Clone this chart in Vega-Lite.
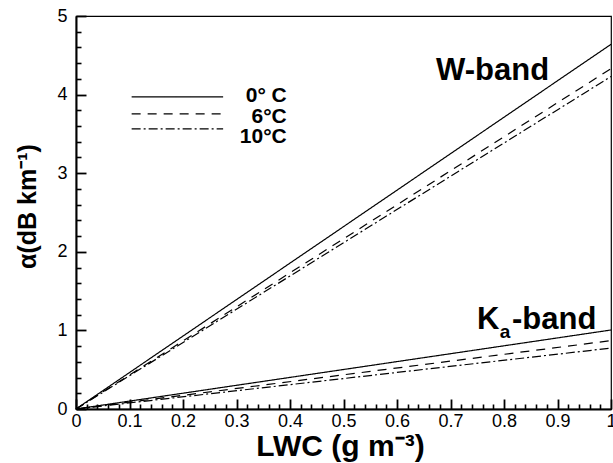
{
  "$schema": "https://vega.github.io/schema/vega-lite/v6.json",
  "width": 535,
  "height": 393,
  "autosize": "none",
  "padding": {"left": 76, "top": 16, "right": 2, "bottom": 54},
  "background": "#ffffff",
  "config": {
    "font": "Liberation Sans",
    "view": {"stroke": "#000000", "strokeWidth": 1.2},
    "axis": {
      "grid": false,
      "domainColor": "#000000",
      "tickColor": "#000000",
      "labelColor": "#000000",
      "titleColor": "#000000",
      "labelFont": "Liberation Sans",
      "labelFontSize": 18,
      "titleFont": "Liberation Sans",
      "titleFontSize": 28,
      "titleFontWeight": "bold"
    }
  },
  "datasets": {
    "curves": [
      {"band": "W", "temp": "0°C", "lwc": 0, "alpha": 0},
      {"band": "W", "temp": "0°C", "lwc": 1, "alpha": 4.64},
      {"band": "W", "temp": "6°C", "lwc": 0, "alpha": 0},
      {"band": "W", "temp": "6°C", "lwc": 1, "alpha": 4.33},
      {"band": "W", "temp": "10°C", "lwc": 0, "alpha": 0},
      {"band": "W", "temp": "10°C", "lwc": 1, "alpha": 4.23},
      {"band": "Ka", "temp": "0°C", "lwc": 0, "alpha": 0},
      {"band": "Ka", "temp": "0°C", "lwc": 1, "alpha": 1.005},
      {"band": "Ka", "temp": "6°C", "lwc": 0, "alpha": 0},
      {"band": "Ka", "temp": "6°C", "lwc": 1, "alpha": 0.87},
      {"band": "Ka", "temp": "10°C", "lwc": 0, "alpha": 0},
      {"band": "Ka", "temp": "10°C", "lwc": 1, "alpha": 0.775}
    ],
    "legend": [
      {"temp": "0°C", "label": "0° C", "x": 0.104, "x2": 0.275, "y": 3.97, "ly": 3.98, "lx": 0.394},
      {"temp": "6°C", "label": "6°C", "x": 0.104, "x2": 0.275, "y": 3.754, "ly": 3.72, "lx": 0.394},
      {"temp": "10°C", "label": "10°C", "x": 0.104, "x2": 0.275, "y": 3.563, "ly": 3.46, "lx": 0.394}
    ],
    "bands": [
      {"text": "W-band", "x": 0.673, "y": 4.19},
      {"text": "K", "x": 0.7495, "y": 1.019},
      {"text": "-band", "x": 0.815, "y": 1.019}
    ],
    "subs": [
      {"text": "a", "x": 0.792, "y": 0.904}
    ]
  },
  "layer": [
    {
      "data": {"name": "curves"},
      "mark": {"type": "line", "color": "#000000", "strokeWidth": 1.2},
      "encoding": {
        "x": {
          "field": "lwc", "type": "quantitative",
          "scale": {"domain": [0, 1], "nice": false, "zero": false},
          "axis": {
            "orient": "bottom",
            "values": [0.02, 0.04, 0.06, 0.08, 0.12, 0.14, 0.16, 0.18, 0.22, 0.24, 0.26, 0.28, 0.32, 0.34, 0.36, 0.38, 0.42, 0.44, 0.46, 0.48, 0.52, 0.54, 0.56, 0.58, 0.62, 0.64, 0.66, 0.68, 0.72, 0.74, 0.76, 0.78, 0.82, 0.84, 0.86, 0.88, 0.92, 0.94, 0.96, 0.98],
            "tickSize": -5,
            "tickWidth": 1.6,
            "labels": false,
            "domain": false,
            "title": null
          }
        },
        "y": {
          "field": "alpha", "type": "quantitative",
          "scale": {"domain": [0, 5], "nice": false, "zero": false},
          "axis": {
            "orient": "left",
            "values": [0.2, 0.4, 0.6, 0.8, 1.2, 1.4, 1.6, 1.8, 2.2, 2.4, 2.6, 2.8, 3.2, 3.4, 3.6, 3.8, 4.2, 4.4, 4.6, 4.8],
            "tickSize": -5,
            "tickWidth": 1.6,
            "labels": false,
            "domain": false,
            "title": null
          }
        },
        "detail": {"field": "band", "type": "nominal"},
        "strokeDash": {
          "field": "temp", "type": "nominal",
          "scale": {"domain": ["0°C", "6°C", "10°C"], "range": [[1, 0], [9, 7], [9, 3, 2, 3]]},
          "legend": null
        }
      }
    },
    {
      "data": {"name": "legend"},
      "mark": {"type": "rule", "color": "#000000", "strokeWidth": 1.2},
      "encoding": {
        "x": {
          "field": "x", "type": "quantitative",
          "axis": {
            "orient": "bottom",
            "values": [0, 0.1, 0.2, 0.3, 0.4, 0.5, 0.6, 0.7, 0.8, 0.9, 1],
            "format": "~g",
            "tickSize": -10,
            "tickWidth": 1.8,
            "domainWidth": 2,
            "labelPadding": 13,
            "labelFlush": false,
            "labelOverlap": false,
            "title": "LWC (g m⁻³)",
            "titleFontSize": 30,
            "titleBaseline": "alphabetic",
            "titleX": 264,
            "titleY": 46
          }
        },
        "x2": {"field": "x2"},
        "y": {
          "field": "y", "type": "quantitative",
          "axis": {
            "orient": "left",
            "values": [0, 1, 2, 3, 4, 5],
            "format": "d",
            "tickSize": -10,
            "tickWidth": 1.8,
            "domainWidth": 2,
            "labelPadding": 19,
            "labelFlush": false,
            "labelOverlap": false,
            "title": "α(dB km⁻¹)",
            "titleFontSize": 25,
            "titleBaseline": "alphabetic",
            "titleX": -41,
            "titleY": 190
          }
        },
        "strokeDash": {"field": "temp", "type": "nominal", "legend": null}
      }
    },
    {
      "data": {"name": "legend"},
      "mark": {"type": "text", "align": "right", "baseline": "middle", "fontSize": 21, "fontWeight": "bold", "font": "Liberation Sans", "color": "#000000"},
      "encoding": {
        "x": {"field": "lx", "type": "quantitative", "axis": null},
        "y": {"field": "ly", "type": "quantitative", "axis": null},
        "text": {"field": "label"}
      }
    },
    {
      "data": {"name": "bands"},
      "mark": {"type": "text", "align": "left", "baseline": "alphabetic", "fontSize": 31, "fontWeight": "bold", "font": "Liberation Sans", "color": "#000000"},
      "encoding": {
        "x": {"field": "x", "type": "quantitative", "axis": null},
        "y": {"field": "y", "type": "quantitative", "axis": null},
        "text": {"field": "text"}
      }
    },
    {
      "data": {"name": "subs"},
      "mark": {"type": "text", "align": "left", "baseline": "alphabetic", "fontSize": 19, "fontWeight": "bold", "font": "Liberation Sans", "color": "#000000"},
      "encoding": {
        "x": {"field": "x", "type": "quantitative", "axis": null},
        "y": {"field": "y", "type": "quantitative", "axis": null},
        "text": {"field": "text"}
      }
    }
  ],
  "resolve": {"axis": {"x": "independent", "y": "independent"}}
}
